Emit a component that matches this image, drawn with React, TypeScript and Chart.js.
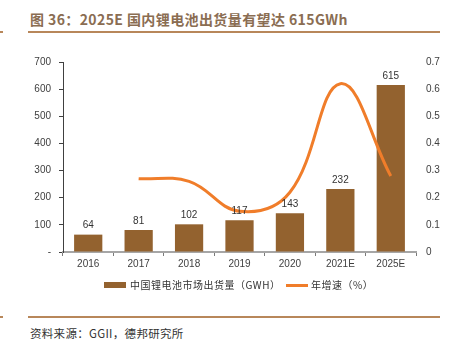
import React, { useEffect, useRef } from "react";
import { Chart, registerables } from "chart.js";

Chart.register(...registerables);

const categories = ["2016", "2017", "2018", "2019", "2020", "2021E", "2025E"];
const shipments = [64, 81, 102, 117, 143, 232, 615];
const growth = [null, 0.27, 0.26, 0.15, 0.22, 0.62, 0.28];
const leftTicks = [0, 100, 200, 300, 400, 500, 600, 700];
const rightTicks = [0, 0.1, 0.2, 0.3, 0.4, 0.5, 0.6, 0.7];

const BAR_COLOR = "#93622F";
const LINE_COLOR = "#F07D2A";
const LINE_DECOR = "#B8875A";
const CJK = "'Noto Sans CJK SC', 'Liberation Sans', sans-serif";

const barLabels = {
  id: "barLabels",
  afterDatasetsDraw(chart: any) {
    const ctx = chart.ctx;
    const meta = chart.getDatasetMeta(0);
    ctx.save();
    ctx.font = "10px 'Liberation Sans', Arial, sans-serif";
    ctx.fillStyle = "#333333";
    ctx.textAlign = "center";
    ctx.textBaseline = "bottom";
    meta.data.forEach((el: any, i: number) => {
      ctx.fillText(String(shipments[i]), el.x, el.y - 4);
    });
    ctx.restore();
  },
};

export default function App() {
  const ref = useRef<HTMLCanvasElement | null>(null);

  useEffect(() => {
    document.body.style.margin = "0";
    if (!ref.current) return;
    const chart = new Chart(ref.current, {
      type: "bar",
      data: {
        labels: categories,
        datasets: [
          {
            type: "bar",
            label: "中国锂电池市场出货量（GWH）",
            data: shipments,
            backgroundColor: BAR_COLOR,
            borderWidth: 0,
            categoryPercentage: 1,
            barPercentage: 0.56,
            yAxisID: "y",
            order: 2,
          },
          {
            type: "line",
            label: "年增速（%）",
            data: growth as any,
            borderColor: LINE_COLOR,
            backgroundColor: LINE_COLOR,
            borderWidth: 3,
            pointRadius: 0,
            tension: 0.4,
            yAxisID: "y1",
            order: 1,
          },
        ],
      },
      options: {
        animation: false,
        responsive: false,
        maintainAspectRatio: false,
        layout: { padding: { top: 22, left: 0, right: 0, bottom: 0 } },
        plugins: {
          legend: { display: false },
          tooltip: { enabled: false },
        },
        scales: {
          x: {
            offset: true,
            grid: {
              offset: true,
              drawOnChartArea: false,
              drawTicks: true,
              tickLength: 4,
              color: "#7a7a7a",
            },
            border: { display: true, color: "#a6a6a6", width: 2 },
            ticks: {
              font: { size: 10, family: "'Liberation Sans', Arial, sans-serif" },
              color: "#404040",
              padding: 2,
            },
            afterFit(scale: any) {
              scale.height = 28;
            },
          },
          y: {
            position: "left",
            min: 0,
            max: 700,
            afterBuildTicks(scale: any) {
              scale.ticks = leftTicks.map((v) => ({ value: v }));
            },
            grid: {
              drawOnChartArea: false,
              drawTicks: true,
              tickLength: 4,
              color: "#404040",
            },
            border: { display: true, color: "#404040", width: 1 },
            ticks: {
              font: { size: 10, family: "'Liberation Sans', Arial, sans-serif" },
              color: "#404040",
              padding: 8,
              callback: (v: any) => (Number(v) === 0 ? "-" : String(v)),
            },
            afterFit(scale: any) {
              scale.width = 63;
            },
          },
          y1: {
            position: "right",
            min: 0,
            max: 0.7,
            afterBuildTicks(scale: any) {
              scale.ticks = rightTicks.map((v) => ({ value: v }));
            },
            grid: { display: false, drawTicks: false },
            border: { display: false },
            ticks: {
              font: { size: 10, family: "'Liberation Sans', Arial, sans-serif" },
              color: "#404040",
              padding: 10,
              callback: (v: any) => (Number(v) === 0 ? "0" : Number(v).toFixed(1)),
            },
            afterFit(scale: any) {
              scale.width = 34;
            },
          },
        },
      },
      plugins: [barLabels],
    });
    return () => chart.destroy();
  }, []);

  return (
    <div style={{ position: "relative", width: 450, height: 352, background: "#fff", overflow: "hidden" }}>
      <div
        style={{
          position: "absolute",
          left: 30,
          top: 10,
          fontFamily: CJK,
          fontWeight: "bold",
          fontSize: 14,
          color: "#8A6D52",
          whiteSpace: "nowrap",
          lineHeight: "18px",
          letterSpacing: 0.4,
        }}
      >
        图 36：2025E 国内锂电池出货量有望达 615GWh
      </div>
      <div style={{ position: "absolute", left: 0, top: 31, width: 3, height: 2, background: LINE_DECOR }} />
      <div style={{ position: "absolute", left: 28, top: 31, width: 412, height: 2, background: LINE_DECOR }} />
      <canvas ref={ref} width={450} height={240} style={{ position: "absolute", left: 0, top: 40, width: 450, height: 240 }} />
      <div style={{ position: "absolute", left: 104, top: 282, width: 22, height: 6, background: BAR_COLOR }} />
      <div
        style={{
          position: "absolute",
          left: 130,
          top: 278,
          fontFamily: CJK,
          fontSize: 10,
          color: "#333",
          whiteSpace: "nowrap",
          lineHeight: "14px",
          letterSpacing: 0.5,
        }}
      >
        中国锂电池市场出货量（GWH）
      </div>
      <div style={{ position: "absolute", left: 286, top: 284, width: 22, height: 3, background: LINE_COLOR }} />
      <div
        style={{
          position: "absolute",
          left: 311,
          top: 278,
          fontFamily: CJK,
          fontSize: 10,
          color: "#333",
          whiteSpace: "nowrap",
          lineHeight: "14px",
          letterSpacing: 0.5,
        }}
      >
        年增速（%）
      </div>
      <div style={{ position: "absolute", left: 0, top: 316, width: 3, height: 2, background: LINE_DECOR }} />
      <div style={{ position: "absolute", left: 28, top: 316, width: 412, height: 2, background: LINE_DECOR }} />
      <div
        style={{
          position: "absolute",
          left: 30,
          top: 325,
          fontFamily: CJK,
          fontSize: 11.5,
          color: "#333",
          whiteSpace: "nowrap",
          lineHeight: "16px",
          letterSpacing: 0.3,
        }}
      >
        资料来源：GGII，德邦研究所
      </div>
    </div>
  );
}
